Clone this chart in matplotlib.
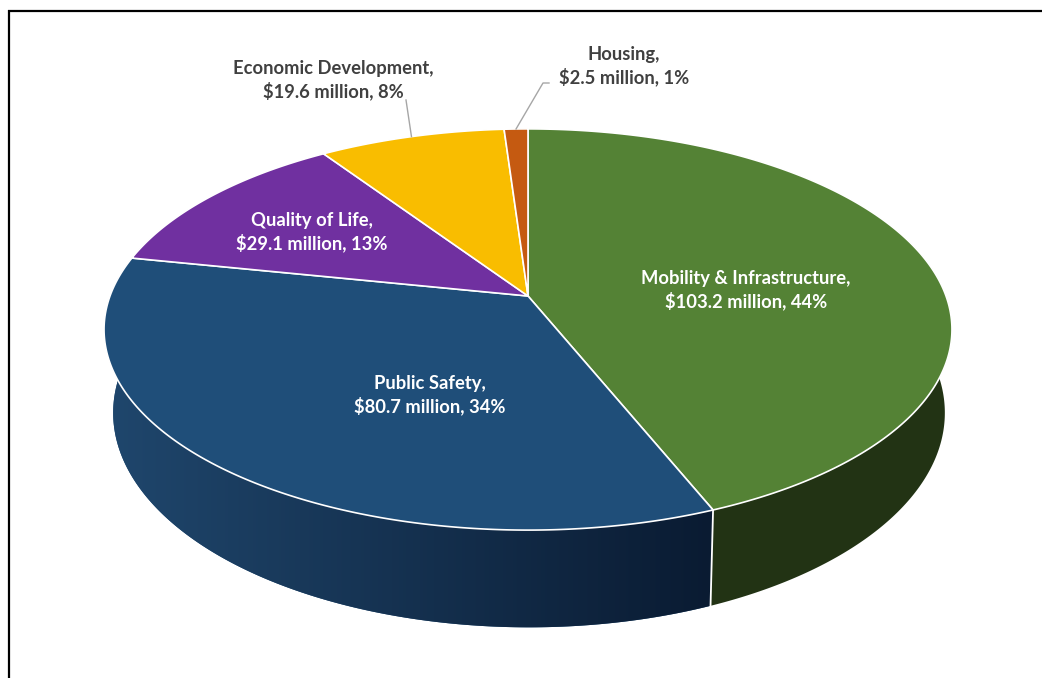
import numpy as np
import matplotlib
matplotlib.use("Agg")
import matplotlib.pyplot as plt
from matplotlib.patches import Polygon

# Budget allocation by category (millions of dollars)
categories = ["Mobility & Infrastructure", "Public Safety", "Quality of Life",
              "Economic Development", "Housing"]
amounts = [103.2, 80.7, 29.1, 19.6, 2.5]
percent_labels = [44, 34, 13, 8, 1]

top_colors = ["#548235", "#1F4E79", "#7030A0", "#F9BD00", "#C55A11"]
side_colors = ["#223314", "#1F4E79", "#4B1F6B", "#A67C00", "#83380B"]

# Label placement (pixel centres of each two-line label) and style
label_pos = [(746, 290), (430, 395), (312, 232), (333, 80), (624, 66)]
label_inside = [True, True, True, False, False]

# Perspective disc geometry (pixels)
CX, CY = 528.0, 296.0
A, B, K = 418.0, 195.0, 0.167
CX_BOT, A_BOT, DEPTH = 529.0, 410.0, 81.0

W, H = 1042, 678
fig = plt.figure(figsize=(W / 100, H / 100), dpi=100)
ax = fig.add_axes([0, 0, 1, 1])
ax.set_xlim(0, W)
ax.set_ylim(H, 0)
ax.axis("off")


def top_pt(theta):
    th = np.radians(theta)
    u, v = np.sin(th), np.cos(th)
    t = 1.0 / (1.0 + K * v)
    return CX + A * u * t, CY - B * v * t


def bot_pt(theta):
    th = np.radians(theta)
    u, v = np.sin(th), np.cos(th)
    t = 1.0 / (1.0 + K * v)
    return CX_BOT + A_BOT * u * t, CY - B * v * t + DEPTH * t


total = sum(amounts)
bounds = np.concatenate([[0.0], np.cumsum(amounts) / total * 360.0])

# Side walls (only the front part of the disc is visible)
for i in range(len(amounts)):
    a0, a1 = max(bounds[i], 75.0), min(bounds[i + 1], 285.0)
    if a1 <= a0:
        continue
    th = np.linspace(a0, a1, 200)
    tx, ty = top_pt(th)
    bx, by = bot_pt(th[::-1])
    poly = Polygon(np.column_stack([np.r_[tx, bx], np.r_[ty, by]]),
                   closed=True, facecolor=side_colors[i], edgecolor="none",
                   zorder=1)
    ax.add_patch(poly)
    if i == 1:
        # darkening gradient across the wall of the public safety slice
        grad = np.linspace(0, 1, 256)[None, :, None]
        c0 = np.array([31, 70, 108]) / 255.0
        c1 = np.array([10, 27, 50]) / 255.0
        img = c0 + (c1 - c0) * grad
        im = ax.imshow(img, extent=(bx.min(), tx.max(), 640, 250),
                       aspect="auto", zorder=1.5, interpolation="bilinear")
        im.set_clip_path(poly)

# White seam between the visible wall segments
for b in bounds[1:-1]:
    if 90.0 < b < 270.0:
        x0, y0 = top_pt(b)
        x1, y1 = bot_pt(b)
        ax.plot([x0, x1], [y0, y1], color="white", lw=1.3, zorder=2)

# Top faces
for i in range(len(amounts)):
    th = np.linspace(bounds[i], bounds[i + 1], 300)
    tx, ty = top_pt(th)
    xs = np.r_[CX, tx]
    ys = np.r_[CY, ty]
    ax.add_patch(Polygon(np.column_stack([xs, ys]), closed=True,
                         facecolor=top_colors[i], edgecolor="white",
                         lw=1.2, joinstyle="round", zorder=3))

# Labels
font = dict(family="Lato", fontweight="bold", fontsize=13.2)
for i, name in enumerate(categories):
    text = f"{name},\n${amounts[i]:.1f} million, {percent_labels[i]}%"
    color = "white" if label_inside[i] else "#404040"
    x, y = label_pos[i]
    ax.text(x, y, text, ha="center", va="center", color=color,
            linespacing=1.3, zorder=5, **font)

# Leader lines for the outside labels
mid3 = (bounds[3] + bounds[4]) / 2
ex, ey = top_pt(mid3)
ax.plot([406, ex], [100, ey], color="#A6A6A6", lw=1.0, zorder=4)
mid4 = (bounds[4] + bounds[5]) / 2
hx, hy = top_pt(mid4)
ax.plot([549, 543, hx], [83, 83, hy], color="#A6A6A6", lw=1.0, zorder=4)

# Chart frame
ax.plot([8, W], [10.5, 10.5], color="black", lw=1.6, zorder=6,
        solid_capstyle="butt")
ax.plot([8.5, 8.5], [10, H], color="black", lw=1.6, zorder=6,
        solid_capstyle="butt")

fig.savefig("out.png", dpi=100)
